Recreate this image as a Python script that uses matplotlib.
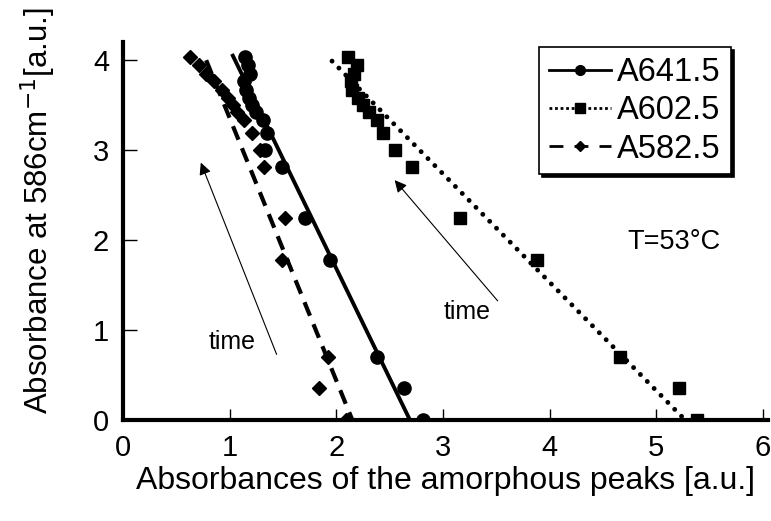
import matplotlib
matplotlib.use("Agg")
import matplotlib.pyplot as plt
from matplotlib.lines import Line2D

plt.rcParams['font.family'] = ['Liberation Sans', 'DejaVu Sans']

# absorbance at 586 cm-1 (shared by the three series)
y586 = [4.03, 3.95, 3.85, 3.77, 3.67, 3.58, 3.50, 3.42, 3.33, 3.19, 3.00,
        2.81, 2.24, 1.78, 0.70, 0.35, 0.00]

# absorbances of the amorphous peaks
a641 = [1.14, 1.17, 1.19, 1.13, 1.15, 1.18, 1.21, 1.25, 1.31, 1.35, 1.33,
        1.49, 1.71, 1.94, 2.38, 2.63, 2.81]
a602 = [2.11, 2.19, 2.17, 2.14, 2.15, 2.20, 2.25, 2.31, 2.38, 2.44, 2.55,
        2.71, 3.16, 3.88, 4.66, 5.21, 5.38]
a582 = [0.63, 0.71, 0.78, 0.85, 0.93, 0.98, 1.03, 1.07, 1.13, 1.21, 1.28,
        1.32, 1.52, 1.49, 1.92, 1.84, 2.09]

# linear fits (end points)
fit641_x = [1.03, 2.69]
fit602_x = [1.96, 5.27]
fit582_x = [0.78, 2.15]
fit641_y = [4.05, 0.0]
fit602_y = [3.99, 0.0]
fit582_y = [4.00, 0.0]

labels = ["A641.5", "A602.5", "A582.5"]

fig = plt.figure(figsize=(7.71, 5.21), dpi=100)
ax = fig.add_axes([0.1595, 0.194, 0.837, 0.725])

ax.plot(fit641_x, fit641_y, color='black', lw=2.8, ls='-')
ax.plot(fit602_x, fit602_y, color='black', lw=3.5, ls=(0, (0.01, 2.0)),
        dash_capstyle='round')
ax.plot(fit582_x, fit582_y, color='black', lw=3, ls=(0, (3.5, 2.2)))

ax.plot(a641, y586, ls='none', marker='o', ms=9.5, color='black')
ax.plot(a602, y586, ls='none', marker='s', ms=8.5, color='black')
ax.plot(a582, y586, ls='none', marker='D', ms=7.5, color='black')

handles = [
    Line2D([], [], color='black', lw=2, ls='-', marker='o', ms=7),
    Line2D([], [], color='black', lw=2, ls=(0, (1, 1)), marker='s', ms=7),
    Line2D([], [], color='black', lw=2, ls=(0, (5, 4)), marker='D', ms=5.5),
]
leg = ax.legend(handles, labels, loc='upper right', bbox_to_anchor=(0.947, 0.995),
                fontsize=23.5, frameon=True, fancybox=False,
                shadow={'color': 'black', 'alpha': 1},
                handlelength=1.9, handletextpad=0.2, borderpad=0.3,
                labelspacing=0.22, borderaxespad=0.1)
leg.get_frame().set_edgecolor('black')
leg.get_frame().set_linewidth(1.2)

# time arrows
ax.annotate("", xy=(0.72, 2.89), xytext=(1.45, 0.70),
            arrowprops=dict(arrowstyle='-|>', color='black', lw=0.8, mutation_scale=18))
ax.annotate("", xy=(2.53, 2.69), xytext=(3.53, 1.30),
            arrowprops=dict(arrowstyle='-|>', color='black', lw=0.8, mutation_scale=18))
ax.text(1.02, 0.87, "time", fontsize=18, ha='center', va='center')
ax.text(3.23, 1.20, "time", fontsize=18, ha='center', va='center')
ax.text(5.17, 1.98, "T=53°C", fontsize=19.5, ha='center', va='center')

ax.set_xlim(0, 6.05)
ax.set_ylim(0, 4.2)
ax.set_xticks([0, 1, 2, 3, 4, 5, 6])
ax.set_yticks([0, 1, 2, 3, 4])
ax.spines['top'].set_visible(False)
ax.spines['right'].set_visible(False)
ax.spines['left'].set_linewidth(3)
ax.spines['bottom'].set_linewidth(3)
ax.tick_params(direction='in', length=8, width=1, labelsize=21, pad=10)
ax.tick_params(axis='y', length=10)

ax.set_xlabel("Absorbances of the amorphous peaks [a.u.]", fontsize=23, labelpad=3)
ax.set_ylabel("Absorbance at 586cm$^{-1}$[a.u.]", fontsize=22.5)
ax.yaxis.set_label_coords(-0.10, 0.555)

fig.savefig("out.png", dpi=100)
